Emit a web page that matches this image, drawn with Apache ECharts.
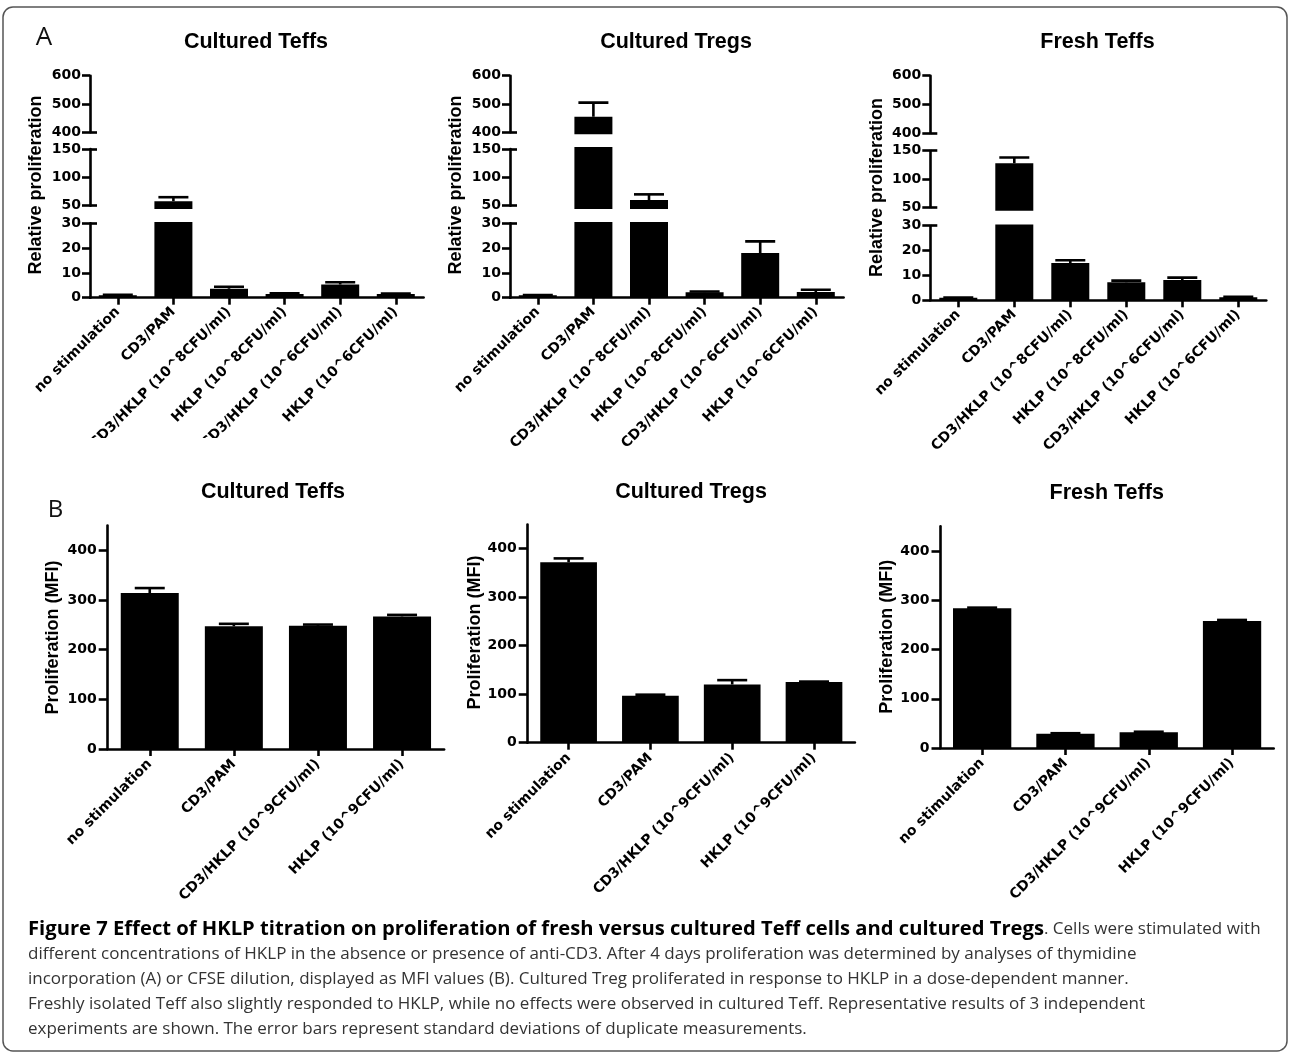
<!DOCTYPE html>
<html><head><meta charset="utf-8">
<script src="https://cdn.jsdelivr.net/npm/echarts@6/dist/echarts.min.js"></script>
<style>html,body{margin:0;padding:0;background:#fff}#c{width:1290px;height:1060px}</style>
</head><body><div id="c"></div>
<script>
// ---------- DATA ----------
const categoriesA = ['no stimulation', 'CD3/PAM', 'CD3/HKLP (10^8CFU/ml)', 'HKLP (10^8CFU/ml)', 'CD3/HKLP (10^6CFU/ml)', 'HKLP (10^6CFU/ml)'];
const categoriesB = ['no stimulation', 'CD3/PAM', 'CD3/HKLP (10^9CFU/ml)', 'HKLP (10^9CFU/ml)'];

const culturedTeffsA = [1.0, 58, 3.6, 1.5, 5.3, 1.5];
const culturedTeffsAErr = [0.2, 7, 0.8, 0.3, 0.9, 0.2];
const culturedTregsA = [1.0, 455, 60, 2.2, 18, 2.3];
const culturedTregsAErr = [0.1, 50, 10, 0.3, 4.7, 0.9];
const freshTeffsA = [1.0, 128, 15, 7.3, 8.2, 1.2];
const freshTeffsAErr = [0.1, 10, 1.1, 0.6, 0.9, 0.2];

const culturedTeffsB = [314, 247, 248, 267];
const culturedTeffsBErr = [10, 5, 2.5, 3];
const culturedTregsB = [372, 97, 120, 125];
const culturedTregsBErr = [8, 2, 9, 1];
const freshTeffsB = [284, 29, 32, 258];
const freshTeffsBErr = [1, 1, 1, 2];

const ticksB = [0, 100, 200, 300, 400];

// broken-axis segments of panel A: tick range, tick step, drawn bar range, break marks
const segTop = { lo: 400, hi: 600, step: 100, ext: [393, 600], breaks: [400] };
const segMid = { lo: 50, hi: 150, step: 50, ext: [44, 153.5], breaks: [50, 150] };
const segLow = { lo: 0, hi: 30, step: 10, ext: [0, 30.5], breaks: [30] };
const segmentsA = [segTop, segMid, segLow];

// ---------- LAYOUT ----------
const panelsA = [
  { title: 'Cultured Teffs', vals: culturedTeffsA, errs: culturedTeffsAErr, left: 90, width: 333.6,
    px: [[75.7, 132.3], [149, 205.7], [223.3, 297.7]], titleX: 256, yTitleX: 36, yTitleY: 185, cropY: 438, cropX: [20, 445] },
  { title: 'Cultured Tregs', vals: culturedTregsA, errs: culturedTregsAErr, left: 510, width: 333.6,
    px: [[75.7, 132.3], [149, 205.7], [223.3, 297.7]], titleX: 676, yTitleX: 456, yTitleY: 185, cropY: 447, cropX: [445, 865] },
  { title: 'Fresh Teffs', vals: freshTeffsA, errs: freshTeffsAErr, left: 930.3, width: 336,
    px: [[75.7, 133.3], [150.7, 207.3], [225.7, 300.3]], titleX: 1097.5, yTitleX: 877, yTitleY: 187.5, cropY: null }
];
const panelsB = [
  { title: 'Cultured Teffs', vals: culturedTeffsB, errs: culturedTeffsBErr, left: 107.7, width: 336.4,
    zeroY: 749, pxPer100: 49.67, barW: 58, titleX: 273, titleY: 491.7, yTitleX: 53, yTitleY: 637.5 },
  { title: 'Cultured Tregs', vals: culturedTregsB, errs: culturedTregsBErr, left: 527.7, width: 327.2,
    zeroY: 742.7, pxPer100: 48.5, barW: 56.7, titleX: 691, titleY: 492, yTitleX: 475, yTitleY: 632.5 },
  { title: 'Fresh Teffs', vals: freshTeffsB, errs: freshTeffsBErr, left: 940.5, width: 333.2,
    zeroY: 748, pxPer100: 49.25, barW: 58.3, titleX: 1106.7, titleY: 493, yTitleX: 887, yTitleY: 636.7 }
];

const AX = 'DejaVu Sans';
const TF = 'Liberation Sans, Arial, sans-serif';
const LW = 2.6;

const grids = [], xAxes = [], yAxes = [], series = [], elements = [];

function addGrid(left, top, width, height) {
  grids.push({ left: left, top: top, width: width, height: height, containLabel: false, outerBoundsMode: 'none' });
  return grids.length - 1;
}
function hiddenX(gi, cats) {
  xAxes.push({ type: 'category', gridIndex: gi, data: cats, show: false });
  return xAxes.length - 1;
}
function errorRender(capHalf) {
  return function (params, api) {
    const i = api.value(0), v = api.value(1), e = api.value(2);
    const p0 = api.coord([i, v]);
    const p1 = api.coord([i, v + e]);
    const st = { stroke: '#000', lineWidth: LW };
    return { type: 'group', children: [
      { type: 'line', shape: { x1: p0[0], y1: p0[1], x2: p1[0], y2: p1[1] }, style: st },
      { type: 'line', shape: { x1: p1[0] - capHalf, y1: p1[1], x2: p1[0] + capHalf, y2: p1[1] }, style: st }
    ] };
  };
}
const xLabel = { rotate: 45, interval: 0, fontFamily: AX, fontWeight: 'bold', fontSize: 14, color: '#000', margin: 12 };
const yLabel = { fontFamily: AX, fontWeight: 'bold', fontSize: 14, color: '#000' };

// ---------- PANEL A (broken axes) ----------
panelsA.forEach(function (p) {
  segmentsA.forEach(function (s, si) {
    const pyHi = p.px[si][0], pyLo = p.px[si][1];
    const scale = (pyLo - pyHi) / (s.hi - s.lo);
    const gTop = pyHi - (s.ext[1] - s.hi) * scale;
    const gBot = pyLo + (s.lo - s.ext[0]) * scale;
    const gb = addGrid(p.left, gTop, p.width, gBot - gTop);
    const xb = hiddenX(gb, categoriesA);
    yAxes.push({ type: 'value', gridIndex: gb, min: s.ext[0], max: s.ext[1], show: false });
    const yb = yAxes.length - 1;
    series.push({ type: 'bar', xAxisIndex: xb, yAxisIndex: yb, data: p.vals, barWidth: 38,
      itemStyle: { color: '#000' }, clip: true, silent: true, animation: false });
    series.push({ type: 'custom', xAxisIndex: xb, yAxisIndex: yb, clip: true, z: 3, silent: true, animation: false,
      renderItem: errorRender(15), encode: { x: 0, y: 1 },
      data: p.vals.map(function (v, i) { return [i, v, p.errs[i]]; }) });
    const ga = addGrid(p.left, pyHi, p.width, pyLo - pyHi);
    const isLow = si === segmentsA.length - 1;
    if (isLow) {
      xAxes.push({ type: 'category', gridIndex: ga, data: categoriesA,
        axisLine: { show: true, lineStyle: { color: '#000', width: LW } },
        axisTick: { show: true, alignWithLabel: true, length: 7, lineStyle: { color: '#000', width: LW } },
        axisLabel: xLabel });
    } else {
      hiddenX(ga, categoriesA);
    }
    yAxes.push({ type: 'value', gridIndex: ga, min: s.lo, max: s.hi, interval: s.step,
      axisLine: { show: true, lineStyle: { color: '#000', width: LW } },
      axisTick: { show: true, length: 8, lineStyle: { color: '#000', width: LW } },
      axisLabel: Object.assign({ margin: 9 }, yLabel), splitLine: { show: false } });
    yAxes.push({ type: 'value', gridIndex: ga, min: s.lo, max: s.hi, position: 'left',
      axisLine: { show: false }, axisLabel: { show: false }, splitLine: { show: false },
      axisTick: { show: true, inside: true, length: 7, customValues: s.breaks, lineStyle: { color: '#000', width: LW } } });
  });
  elements.push({ type: 'text', x: p.titleX, y: 41.7, style: { text: p.title, font: 'bold 21.5px ' + TF, fill: '#000', textAlign: 'center', textVerticalAlign: 'middle' } });
  elements.push({ type: 'text', x: p.yTitleX, y: p.yTitleY, rotation: Math.PI / 2, style: { text: 'Relative proliferation', font: 'bold 18px ' + TF, fill: '#000', textAlign: 'center', textVerticalAlign: 'middle' } });
  if (p.cropY !== null) {
    // the original sub-figure image is cropped here, cutting the longest labels
    elements.push({ type: 'rect', shape: { x: p.cropX[0], y: p.cropY, width: p.cropX[1] - p.cropX[0], height: 466 - p.cropY }, style: { fill: '#fff' }, z: 95 });
  }
});

// ---------- PANEL B ----------
panelsB.forEach(function (p) {
  const top = p.zeroY - 4.5 * p.pxPer100;
  const g = addGrid(p.left, top, p.width, p.zeroY - top);
  xAxes.push({ type: 'category', gridIndex: g, data: categoriesB,
    axisLine: { show: true, lineStyle: { color: '#000', width: LW } },
    axisTick: { show: true, alignWithLabel: true, length: 7, lineStyle: { color: '#000', width: LW } },
    axisLabel: Object.assign({}, xLabel, { margin: 13 }) });
  const xi = xAxes.length - 1;
  yAxes.push({ type: 'value', gridIndex: g, min: 0, max: 450,
    axisLine: { show: true, lineStyle: { color: '#000', width: LW } },
    axisTick: { show: true, length: 9, customValues: ticksB, lineStyle: { color: '#000', width: LW } },
    axisLabel: Object.assign({ margin: 11, customValues: ticksB }, yLabel), splitLine: { show: false } });
  const yi = yAxes.length - 1;
  series.push({ type: 'bar', xAxisIndex: xi, yAxisIndex: yi, data: p.vals, barWidth: p.barW,
    itemStyle: { color: '#000' }, silent: true, animation: false });
  series.push({ type: 'custom', xAxisIndex: xi, yAxisIndex: yi, z: 3, silent: true, animation: false,
    renderItem: errorRender(15), encode: { x: 0, y: 1 },
    data: p.vals.map(function (v, i) { return [i, v, p.errs[i]]; }) });
  elements.push({ type: 'text', x: p.titleX, y: p.titleY, style: { text: p.title, font: 'bold 21.5px ' + TF, fill: '#000', textAlign: 'center', textVerticalAlign: 'middle' } });
  elements.push({ type: 'text', x: p.yTitleX, y: p.yTitleY, rotation: Math.PI / 2, style: { text: 'Proliferation (MFI)', font: 'bold 18px ' + TF, fill: '#000', textAlign: 'center', textVerticalAlign: 'middle' } });
});

// ---------- frame, panel letters, caption ----------
elements.push({ type: 'rect', shape: { x: 3, y: 7, width: 1284, height: 1044, r: 10 }, style: { fill: 'none', stroke: '#555', lineWidth: 1.5 }, z: -1 });
elements.push({ type: 'text', x: 44, y: 38, style: { text: 'A', font: '26px "Open Sans", sans-serif', fill: '#111', textAlign: 'center', textVerticalAlign: 'middle' } });
elements.push({ type: 'text', x: 55.5, y: 510, style: { text: 'B', font: '24px "Open Sans", sans-serif', fill: '#111', textAlign: 'center', textVerticalAlign: 'middle' } });
const captionLines = [
  '{b|Figure 7 Effect of HKLP titration on proliferation of fresh versus cultured Teff cells and cultured Tregs}{r|. Cells were stimulated with}',
  '{r|different concentrations of HKLP in the absence or presence of anti-CD3. After 4 days proliferation was determined by analyses of thymidine}',
  '{r|incorporation (A) or CFSE dilution, displayed as MFI values (B). Cultured Treg proliferated in response to HKLP in a dose-dependent manner.}',
  '{r|Freshly isolated Teff also slightly responded to HKLP, while no effects were observed in cultured Teff. Representative results of 3 independent}',
  '{r|experiments are shown. The error bars represent standard deviations of duplicate measurements.}'
];
elements.push({ type: 'text', x: 28, y: 917, style: { text: captionLines.join('\n'), textAlign: 'left', textVerticalAlign: 'top',
  rich: {
    b: { fontFamily: 'Open Sans', fontWeight: 'bold', fontSize: 20.2, lineHeight: 25, fill: '#000' },
    r: { fontFamily: 'Open Sans', fontSize: 17, lineHeight: 25, fill: '#333' }
  } } });

const chart = echarts.init(document.getElementById('c'), null, { width: 1290, height: 1060 });
chart.setOption({
  animation: false,
  backgroundColor: '#fff',
  grid: grids, xAxis: xAxes, yAxis: yAxes, series: series,
  graphic: { elements: elements }
});
</script></body></html>
